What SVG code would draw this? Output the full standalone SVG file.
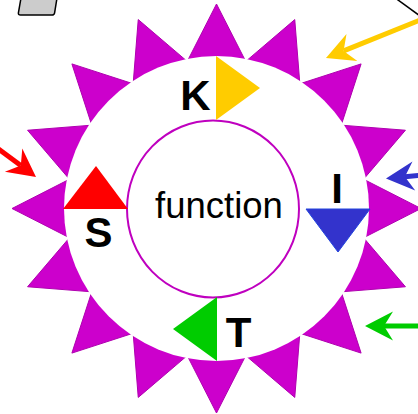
<svg xmlns="http://www.w3.org/2000/svg" width="418" height="414" viewBox="0 0 418 414">
<style>
.lbl{font-family:"Liberation Sans",Arial,sans-serif;font-weight:bold;font-size:42px;fill:#000;text-anchor:middle}
.fn{font-family:"Liberation Sans",Arial,sans-serif;font-size:36.5px;fill:#000;text-anchor:middle}
.arr{fill:none;stroke-width:5}
</style>
<defs>
<marker id="hY" markerUnits="userSpaceOnUse" viewBox="-10 -16 32 32" markerWidth="32" markerHeight="32" refX="0" refY="0" orient="auto"><path d="M0,0 L-9,-14.5 L19,0 L-9,14.5 Z" fill="#ffcc00"/></marker>
<marker id="hR" markerUnits="userSpaceOnUse" viewBox="-10 -16 32 32" markerWidth="32" markerHeight="32" refX="0" refY="0" orient="auto"><path d="M0,0 L-9,-14.5 L19,0 L-9,14.5 Z" fill="#ff0000"/></marker>
<marker id="hB" markerUnits="userSpaceOnUse" viewBox="-10 -16 32 32" markerWidth="32" markerHeight="32" refX="0" refY="0" orient="auto"><path d="M0,0 L-9,-14.5 L19,0 L-9,14.5 Z" fill="#3333cc"/></marker>
<marker id="hG" markerUnits="userSpaceOnUse" viewBox="-10 -16 32 32" markerWidth="32" markerHeight="32" refX="0" refY="0" orient="auto"><path d="M0,0 L-9,-14.5 L19,0 L-9,14.5 Z" fill="#00cc00"/></marker>
</defs>
<rect width="418" height="414" fill="#fff"/>
<g id="corner-box">
<path d="M21,-2 L57,-2 L54.6,12.8 Q54.2,15 52,15 L20.5,15 Q18.2,15 18.4,12.8 Z" fill="#cccccc" stroke="#000" stroke-width="1.5"/>
</g>
<g id="gear">
<polygon id="star" fill="#cc00cc" stroke="#b000b0" stroke-width="1" points="216.5,4 245.76,61.38 294.76,19.57 299.84,83.78 361.1,63.9 341.22,125.16 405.43,130.24 363.62,179.24 421,208.5 363.62,237.76 405.43,286.76 341.22,291.84 361.1,353.1 299.84,333.22 294.76,397.43 245.76,355.62 216.5,413 187.24,355.62 138.24,397.43 133.16,333.22 71.9,353.1 91.78,291.84 27.57,286.76 69.38,237.76 12,208.5 69.38,179.24 27.57,130.24 91.78,125.16 71.9,63.9 133.16,83.78 138.24,19.57 187.24,61.38"/>
</g>
<g id="ring">
<circle cx="216.5" cy="208.5" r="152.5" fill="#fff"/>
</g>
<g id="function">
<ellipse cx="213" cy="209" rx="86" ry="88.5" fill="#fff" stroke="#bf00bf" stroke-width="2"/>
<text class="fn" x="219" y="218">function</text>
</g>
<g id="K">
<polygon points="216,56 216,120 260,88" fill="#ffcc00"/>
<text class="lbl" x="195.5" y="110">K</text>
</g>
<g id="I">
<polygon points="306,209 370,209 338,252" fill="#3333cc" stroke="#2244dd" stroke-width="1"/>
<text class="lbl" x="337" y="203">I</text>
</g>
<g id="T">
<polygon points="217,297 217,361 173,329" fill="#00cc00"/>
<text class="lbl" x="238.5" y="347">T</text>
</g>
<g id="S">
<polygon points="63,209 128,209 96,166" fill="#ff0000"/>
<text class="lbl" x="98.5" y="247">S</text>
</g>
<g id="connectors">
<path d="M396,-1.5 L420,16" stroke="#000" stroke-width="1.5" fill="none"/>
<path class="arr" stroke="#ffcc00" d="M425,18 L343.6,50.9" marker-end="url(#hY)"/>
<path class="arr" stroke="#ff0000" d="M-10,142.5 L20.8,165.6" marker-end="url(#hR)"/>
<path class="arr" stroke="#3333cc" d="M425,174.9 L404.9,176.8" marker-end="url(#hB)"/>
<path class="arr" stroke="#00cc00" d="M425,326 L384,326" marker-end="url(#hG)"/>
</g>
</svg>
